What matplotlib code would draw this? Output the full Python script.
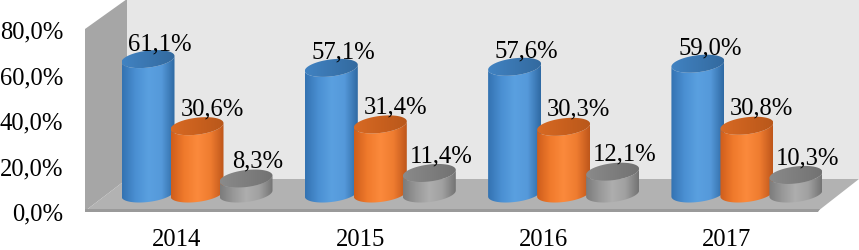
import numpy as np
import matplotlib
matplotlib.use("Agg")
import matplotlib.pyplot as plt
from matplotlib.patches import Polygon
from matplotlib.colors import LinearSegmentedColormap
from matplotlib.transforms import Affine2D

years = ["2014", "2015", "2016", "2017"]
blue_vals = [61.1, 57.1, 57.6, 59.0]
orange_vals = [30.6, 31.4, 30.3, 30.8]
gray_vals = [8.3, 11.4, 12.1, 10.3]
y_ticks = [0, 20, 40, 60, 80]

W, H = 859, 251
GROUP_PX = 183.3     # px between years
Y_PX = 2.275         # px per % on the front of the axis
BASE_UP = 17.5       # px from front floor edge to centre of bar base
R_X, R_Y = 26.5, 8.5
TILT = np.radians(6.5)

plt.rcParams['font.family'] = ['Liberation Serif', 'DejaVu Serif']
plt.rcParams['font.size'] = 17.7

fig = plt.figure(figsize=(W / 100, H / 100), dpi=100)
left, right, bottom_px = 85, 859, 212
ax = fig.add_axes([left / W, 1 - bottom_px / H, (right - left) / W, bottom_px / H])
ax.set_xlim((left - 197) / GROUP_PX, (right - 197) / GROUP_PX)
ax.set_ylim(0, bottom_px / Y_PX)
ax.patch.set_visible(False)
for s in ax.spines.values():
    s.set_visible(False)

ax.set_yticks(y_ticks)
ax.set_yticklabels([f"{t:.1f}%".replace(".", ",") for t in y_ticks])
ax.set_xticks([i - 20 / GROUP_PX for i in range(len(years))])
ax.set_xticklabels(years)
ax.tick_params(axis='both', length=0)
ax.tick_params(axis='y', pad=15.5)
ax.tick_params(axis='x', pad=12.5)

# walls and floor, in image pixels
px = Affine2D().scale(1 / W, -1 / H).translate(0, 1) + fig.transFigure
walls = [
    ([(127, 0), (859, 0), (859, 180), (127, 180)], '#e7e7e7'),
    ([(85, 30), (127, 0), (127, 180), (85, 212)], '#a6a6a6'),
    ([(85, 212), (127, 180), (859, 180), (818, 212)], '#b2b2b2'),
    ([(85, 210), (820, 210), (818, 213), (85, 213)], '#9a9a9a'),
]
for pts, c in walls:
    fig.add_artist(Polygon(pts, closed=True, transform=px, facecolor=c, edgecolor='none', zorder=-5))


def ellipse(cx, cy):
    # points in px offsets, turned into data units
    t = np.linspace(0, 2 * np.pi, 120)
    dx = R_X * np.cos(t)
    dy = R_Y * np.sin(t) + np.tan(TILT) * dx
    return cx + dx / GROUP_PX, cy + dy / Y_PX


def cylinder(cx, value, bar_px, body_cols, top_cols, z):
    y0 = BASE_UP / Y_PX
    y1 = y0 + value * bar_px / Y_PX
    xb, yb = ellipse(cx, y0)
    xt, yt = ellipse(cx, y1)
    # silhouette = lower half of the base + same curve raised to the top
    half = yb <= y0 + np.tan(TILT) * (xb - cx) * GROUP_PX / Y_PX
    order = np.argsort(xb[half])
    xs = xb[half][order]
    ys = yb[half][order]
    body = np.vstack([np.c_[xs, ys], np.c_[xs[::-1], ys[::-1] + (y1 - y0)]])
    ext = [cx - R_X / GROUP_PX, cx + R_X / GROUP_PX, y0 - 14 / Y_PX, y1 + 14 / Y_PX]

    cm = LinearSegmentedColormap.from_list('b', body_cols)
    im = ax.imshow(np.linspace(0, 1, 100)[None, :], cmap=cm, extent=ext, aspect='auto', zorder=z)
    p = Polygon(body, closed=True, transform=ax.transData, facecolor='none', edgecolor='none', zorder=z)
    ax.add_patch(p)
    im.set_clip_path(p)

    cm = LinearSegmentedColormap.from_list('t', top_cols)
    im2 = ax.imshow(np.linspace(0, 1, 100)[None, :], cmap=cm, extent=ext, aspect='auto', zorder=z + 0.1)
    p2 = Polygon(np.c_[xt, yt], closed=True, transform=ax.transData, facecolor='none', edgecolor='none', zorder=z)
    ax.add_patch(p2)
    im2.set_clip_path(p2)
    return y1


styles = [
    (blue_vals, -49 / GROUP_PX, 2.2, ['#3473b2', '#4a8fd2', '#5aa0e0', '#5599da', '#2f6aa4'],
     ['#4183c2', '#3a76b0', '#336a9f'], (12, 16)),
    (orange_vals, 0.0, 2.2, ['#cf5e1c', '#f07a2c', '#fb8a3c', '#ef7c30', '#bf571b'],
     ['#d76a24', '#c9601e', '#b9581b'], (15, 18)),
    (gray_vals, 49 / GROUP_PX, 1.8, ['#7c7c7c', '#989898', '#aeaeae', '#a0a0a0', '#747474'],
     ['#8a8a8a', '#7e7e7e', '#727272'], (12, 18)),
]

for n, (vals, off, bar_px, body_cols, top_cols, lab) in enumerate(styles):
    for i, v in enumerate(vals):
        top = cylinder(i + off, v, bar_px, body_cols, top_cols, 2 + n)
        ax.annotate(f"{v:.1f}%".replace(".", ","), xy=(i + off, top),
                    xytext=(lab[0] * 0.72, lab[1] * 0.72), textcoords='offset points',
                    ha='center', va='center', zorder=10, annotation_clip=False)

ax.set_xlim((left - 197) / GROUP_PX, (right - 197) / GROUP_PX)
ax.set_ylim(0, bottom_px / Y_PX)
fig.savefig("out.png", dpi=100)
